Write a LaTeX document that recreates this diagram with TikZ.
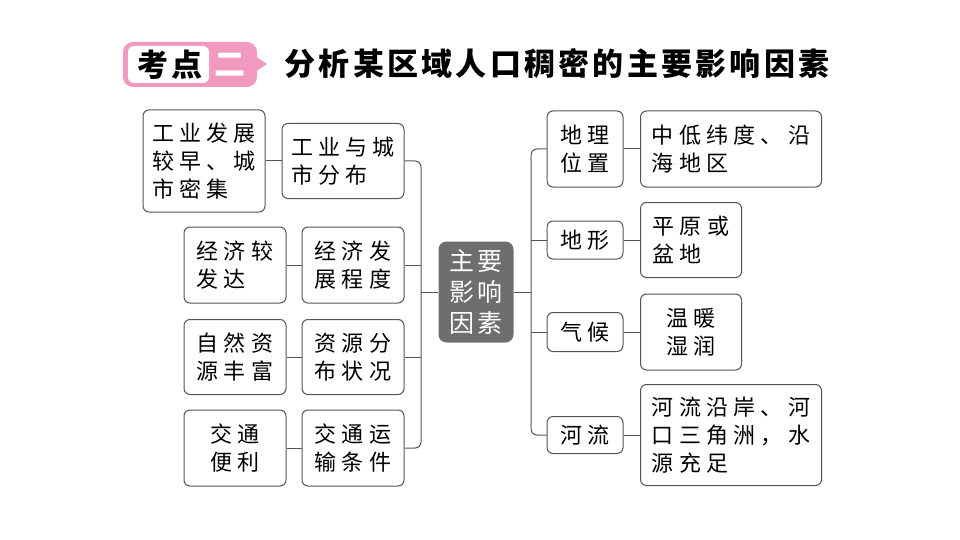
\documentclass[tikz,border=0pt]{standalone}
\usepackage{fontspec}
\usepackage{tikz}
\setmainfont{Noto Sans CJK SC}
\newfontfamily\boxfont[LetterSpace=24]{Noto Sans CJK SC}
\newfontfamily\hubfont[LetterSpace=10]{Noto Sans CJK SC}
\newfontfamily\headfont[LetterSpace=10.5]{Noto Sans CJK SC}
\definecolor{badgepink}{HTML}{F299BF}
\definecolor{hubgray}{HTML}{6E6E6E}
\definecolor{linegray}{HTML}{555555}
\newcommand\boxtext{\boxfont\fontsize{22}{28}\selectfont}
\newcommand\hubtext{\hubfont\fontsize{25}{31}\selectfont}
\newcommand\headtext{\headfont\bfseries\fontsize{31}{34}\selectfont}

\begin{document}
\begin{tikzpicture}[x=1pt,y=-1pt,
  box/.style={draw=linegray,line width=1pt,rounded corners=6pt,fill=white,
    inner sep=0pt,font=\boxtext,align=left},
  link/.style={draw=linegray,line width=1pt,rounded corners=6pt}]
  \useasboundingbox (0,0) rectangle (960,540);
  % title
  \fill[badgepink,rounded corners=10pt] (123,42) rectangle (257,87);
  \fill[badgepink] (255,56) -- (267,64) -- (255,72) -- cycle;
  \fill[white,rounded corners=6pt] (128,46) rectangle (209,83);
  \node[font=\headtext] (kd) at (170,64.5) {考点};
  \node[font=\headtext,text=white] (er) at (230,64.5) {二};
  \node[font=\headtext] (title) at (557,64) {分析某区域人口稠密的主要影响因素};
  % left side
  \node[box,minimum width=122,minimum height=102] (ind1) at (204,161) {工业发展\\较早、城\\市密集};
  \node[box,minimum width=122,minimum height=75] (ind) at (343,161) {工业与城\\市分布};
  \node[box,minimum width=102,minimum height=76] (eco1) at (235,265) {经济较\\发达};
  \node[box,minimum width=102,minimum height=76] (eco) at (353,265) {经济发\\展程度};
  \node[box,minimum width=102,minimum height=75] (res1) at (235,357) {自然资\\源丰富};
  \node[box,minimum width=102,minimum height=75] (res) at (353,357) {资源分\\布状况};
  \node[box,minimum width=102,minimum height=76,align=center] (trn1) at (235,448) {交通\\便利};
  \node[box,minimum width=102,minimum height=76] (trn) at (353,448) {交通运\\输条件};
  % centre
  \node[fill=hubgray,rounded corners=8pt,minimum width=75,minimum height=101,
    inner sep=0pt,text=white,font=\hubtext,align=center] (hub) at (476,292) {主要\\影响\\因素};
  % right side
  \node[box,minimum width=76,minimum height=76] (loc) at (585,149) {地理\\位置};
  \node[box,minimum width=181,minimum height=76] (loc1) at (731,149) {中低纬度、沿\\海地区};
  \node[box,minimum width=76,minimum height=38] (ter) at (585,240) {地形};
  \node[box,minimum width=101,minimum height=75] (ter1) at (691,240) {平原或\\盆地};
  \node[box,minimum width=76,minimum height=39] (cli) at (585,332) {气候};
  \node[box,minimum width=101,minimum height=76,align=center] (cli1) at (691,332) {温暖\\湿润};
  \node[box,minimum width=76,minimum height=37] (riv) at (585,435) {河流};
  \node[box,minimum width=181,minimum height=101] (riv1) at (731,435) {河流沿岸、河\\口三角洲，水\\源充足};
  % connectors
  \coordinate (lhub) at (421,292);
  \coordinate (rhub) at (531,292);
  \draw[link] (ind.east) -| (lhub) |- (trn.east);
  \draw[link] (eco.east) -- (eco.east -| lhub);
  \draw[link] (res.east) -- (res.east -| lhub);
  \draw[link] (lhub) -- (hub.west);
  \draw[link] (loc.west) -| (rhub) |- (riv.west);
  \draw[link] (ter.west) -- (ter.west -| rhub);
  \draw[link] (cli.west) -- (cli.west -| rhub);
  \draw[link] (hub.east) -- (rhub);
  \foreach \a/\b in {ind1/ind,eco1/eco,res1/res,trn1/trn,loc/loc1,ter/ter1,cli/cli1,riv/riv1}
    \draw[link] (\a.east) -- (\b.west);
\end{tikzpicture}
\end{document}
